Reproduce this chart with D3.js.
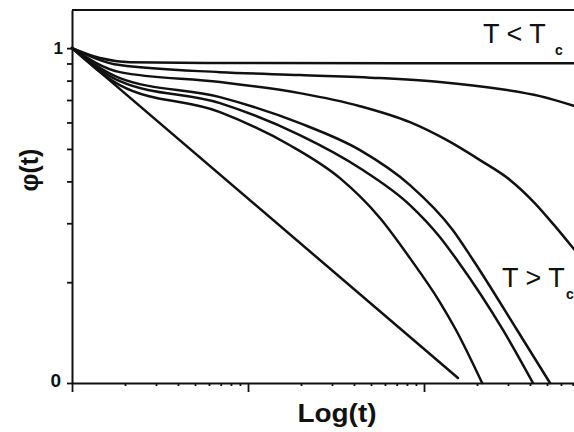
<!DOCTYPE html>
<html lang="en">
<head>
  <meta charset="UTF-8">
  <title>phi(t) vs Log(t)</title>
  <style>
body { margin: 0; background: #fff; }
svg { display: block; }
.txt { font-family: "Liberation Sans", Arial, sans-serif; fill: #111; }
  </style>
</head>
<body>
<div id="wrapper"></div>
<script src="https://cdnjs.cloudflare.com/ajax/libs/d3/7.8.5/d3.min.js"></script>
<script>

// values: t on a log axis, phi(t) on a log axis (0.1 .. 1)
const tStraight   = [1, 156]
const phiStraight = [1, 0.1035]

const tGlass   = [1, 1.44, 2.14, 6.93, 73, 720]
const phiGlass = [1, 0.934, 0.908, 0.903, 0.902, 0.902]

const tCurve2   = [1, 1.87, 6.93, 19.7, 56.2, 123, 270, 456, 720]
const phiCurve2 = [1, 0.89, 0.848, 0.831, 0.814, 0.792, 0.755, 0.719, 0.671]

const tCurve3   = [1, 1.87, 6.93, 19.7, 43.3, 83.2, 135, 208, 308, 427, 555, 720]
const phiCurve3 = [1, 0.848, 0.792, 0.734, 0.671, 0.601, 0.531, 0.463, 0.404, 0.344, 0.294, 0.249]

const tCurve4   = [1, 1.87, 6.93, 19.7, 43.3, 83.2, 146, 190, 338, 520]
const phiCurve4 = [1, 0.814, 0.714, 0.597, 0.496, 0.390, 0.286, 0.233, 0.144, 0.1]

const tCurve5   = [1, 1.87, 6.93, 19.7, 43.3, 83.2, 123, 154, 281, 416]
const phiCurve5 = [1, 0.797, 0.685, 0.550, 0.438, 0.340, 0.273, 0.233, 0.144, 0.1]

const tCurve6   = [1, 1.87, 6.93, 17.3, 33.3, 56.2, 83.2, 123, 152, 214]
const phiCurve6 = [1, 0.776, 0.644, 0.513, 0.409, 0.311, 0.236, 0.1745, 0.144, 0.1]

const yTickValues = [0.1, 0.2, 0.3, 0.4, 0.5, 0.6, 0.7, 0.8, 0.9, 1]
const yTickLabels = { "1": "1", "0.1": "0" }

const curves = [
  [tStraight, phiStraight],
  [tGlass, phiGlass],
  [tCurve2, phiCurve2],
  [tCurve3, phiCurve3],
  [tCurve4, phiCurve4],
  [tCurve5, phiCurve5],
  [tCurve6, phiCurve6],
].map(([ts, ps]) => ts.map((t, i) => ({ t: t, phi: ps[i] })))

// dimensions
let dimensions = {
  width: 574,
  height: 432,
  margin: { top: 10, left: 72, bottom: 49 },
}
dimensions.boundedHeight = dimensions.height - dimensions.margin.top - dimensions.margin.bottom
// plot runs on past the right edge of the picture (3 decades)
dimensions.boundedWidth = 528

const wrapper = d3.select("#wrapper")
  .append("svg")
  .attr("width", dimensions.width)
  .attr("height", dimensions.height)

const bounds = wrapper.append("g")
  .attr("transform", "translate(" + dimensions.margin.left + "," + dimensions.margin.top + ")")

// scales
const xScale = d3.scaleLog()
  .domain([1, 1000])
  .range([0, dimensions.boundedWidth])

const yScale = d3.scaleLog()
  .domain([0.1, 1.3])
  .range([dimensions.boundedHeight, 0])

// axes
const yAxis = bounds.append("g")
  .call(d3.axisLeft(yScale)
    .tickValues(yTickValues)
    .tickSize(5)
    .tickSizeOuter(0)
    .tickFormat(() => ""))

const xAxis = bounds.append("g")
  .attr("transform", "translate(0," + dimensions.boundedHeight + ")")
  .call(d3.axisBottom(xScale)
    .tickSize(3)
    .tickSizeOuter(0)
    .tickFormat(() => ""))

xAxis.selectAll(".tick line")
  .filter(d => Math.abs(Math.log10(d) - Math.round(Math.log10(d))) < 1e-9)
  .attr("y2", 9)

bounds.selectAll(".domain").attr("stroke", "#111").attr("stroke-width", 2)
bounds.selectAll(".tick line").attr("stroke", "#111").attr("stroke-width", 1.8)

// top frame line
bounds.append("line")
  .attr("x1", 0)
  .attr("x2", dimensions.boundedWidth)
  .attr("y1", yScale(1.3))
  .attr("y2", yScale(1.3))
  .attr("stroke", "#111")
  .attr("stroke-width", 2)

// tick labels 1 and 0
bounds.selectAll(".ylab")
  .data(Object.keys(yTickLabels))
  .join("text")
  .attr("class", "txt ylab")
  .attr("x", d => d === "1" ? -9 : -11)
  .attr("y", d => yScale(+d) + (d === "1" ? 6 : 4))
  .attr("text-anchor", "end")
  .style("font-size", d => d === "1" ? "17px" : "19px")
  .style("font-weight", "bold")
  .text(d => yTickLabels[d])

// curves
const lineGenerator = d3.line()
  .x(d => xScale(d.t))
  .y(d => yScale(d.phi))
  .curve(d3.curveMonotoneX)

bounds.selectAll(".curve")
  .data(curves)
  .join("path")
  .attr("class", "curve")
  .attr("d", lineGenerator)
  .attr("fill", "none")
  .attr("stroke", "#111")
  .attr("stroke-width", 2.5)
  .attr("stroke-linecap", "round")

// annotations
wrapper.append("text")
  .attr("class", "txt")
  .attr("x", 483)
  .attr("y", 43)
  .style("font-size", "27px")
  .text("T < T")
wrapper.append("text")
  .attr("class", "txt")
  .attr("x", 555)
  .attr("y", 55)
  .style("font-size", "14px")
  .style("font-weight", "bold")
  .text("c")

wrapper.append("text")
  .attr("class", "txt")
  .attr("x", 502)
  .attr("y", 287)
  .style("font-size", "27px")
  .text("T > T")
wrapper.append("text")
  .attr("class", "txt")
  .attr("x", 566)
  .attr("y", 299)
  .style("font-size", "14px")
  .style("font-weight", "bold")
  .text("c")

// axis titles
wrapper.append("text")
  .attr("class", "txt")
  .attr("x", 337)
  .attr("y", 422)
  .attr("text-anchor", "middle")
  .attr("textLength", 79)
  .attr("lengthAdjust", "spacingAndGlyphs")
  .style("font-size", "25px")
  .style("font-weight", "bold")
  .text("Log(t)")

wrapper.append("text")
  .attr("class", "txt")
  .attr("transform", "translate(38,170) rotate(-90)")
  .attr("text-anchor", "middle")
  .style("font-size", "25px")
  .style("font-weight", "bold")
  .text("φ(t)")

</script>
</body>
</html>
